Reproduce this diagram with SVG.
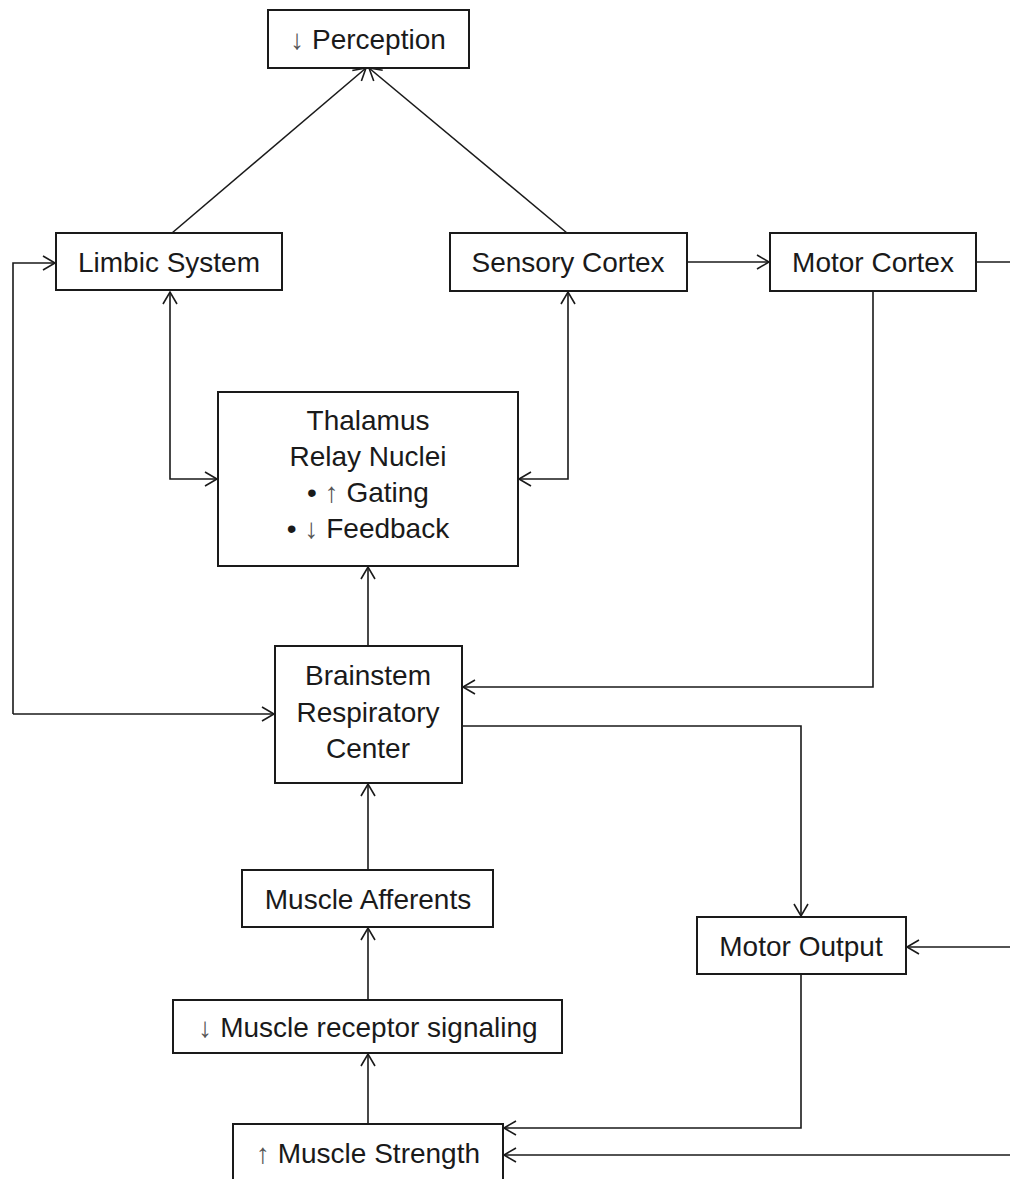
<svg xmlns="http://www.w3.org/2000/svg" width="1010" height="1179" viewBox="0 0 1010 1179">
  <style>
    .box { fill: #ffffff; stroke: #1a1a1a; stroke-width: 2; }
    .lbl { font-family: "Liberation Sans", Arial, sans-serif; font-size: 28px; fill: #1a1a1a; text-anchor: middle; }
    .sym { fill: #555555; }
    .wire { fill: none; stroke: #1a1a1a; stroke-width: 1.6; }
  </style>
  <defs>
    <marker id="arrow" viewBox="0 0 16 16" refX="14" refY="8" markerWidth="16" markerHeight="16" markerUnits="userSpaceOnUse" orient="auto-start-reverse">
      <path d="M2,1 L14,8 L2,15" fill="none" stroke="#1a1a1a" stroke-width="1.6"/>
    </marker>
  </defs>
  <rect width="1010" height="1179" fill="#ffffff"/>

  <!-- connectors -->
  <g id="connectors">
    <path class="wire" d="M172,233 L366,68" marker-end="url(#arrow)"/>
    <path class="wire" d="M567,233 L369,68" marker-end="url(#arrow)"/>
    <path class="wire" d="M687,262 L769,262" marker-end="url(#arrow)"/>
    <path class="wire" d="M976,262 L1010,262"/>
    <path class="wire" d="M13,714 L13,263 L55,263" marker-end="url(#arrow)"/>
    <path class="wire" d="M13,714 L274,714" marker-end="url(#arrow)"/>
    <path class="wire" d="M217,479 L170,479 L170,292" marker-start="url(#arrow)" marker-end="url(#arrow)"/>
    <path class="wire" d="M519,479 L568,479 L568,292" marker-start="url(#arrow)" marker-end="url(#arrow)"/>
    <path class="wire" d="M873,291 L873,687 L463,687" marker-end="url(#arrow)"/>
    <path class="wire" d="M368,646 L368,567" marker-end="url(#arrow)"/>
    <path class="wire" d="M462,726 L801,726 L801,916" marker-end="url(#arrow)"/>
    <path class="wire" d="M1010,947 L907,947" marker-end="url(#arrow)"/>
    <path class="wire" d="M368,870 L368,784" marker-end="url(#arrow)"/>
    <path class="wire" d="M368,1000 L368,928" marker-end="url(#arrow)"/>
    <path class="wire" d="M368,1124 L368,1054" marker-end="url(#arrow)"/>
    <path class="wire" d="M801,974 L801,1128 L504,1128" marker-end="url(#arrow)"/>
    <path class="wire" d="M1010,1155 L504,1155" marker-end="url(#arrow)"/>
  </g>

  <!-- nodes -->
  <g id="perception">
    <rect class="box" x="268" y="10" width="201" height="58"/>
    <text class="lbl" x="368" y="49"><tspan class="sym">↓</tspan> Perception</text>
  </g>
  <g id="limbic-system">
    <rect class="box" x="56" y="233" width="226" height="57"/>
    <text class="lbl" x="169" y="272">Limbic System</text>
  </g>
  <g id="sensory-cortex">
    <rect class="box" x="450" y="233" width="237" height="58"/>
    <text class="lbl" x="568" y="272">Sensory Cortex</text>
  </g>
  <g id="motor-cortex">
    <rect class="box" x="770" y="233" width="206" height="58"/>
    <text class="lbl" x="873" y="272">Motor Cortex</text>
  </g>
  <g id="thalamus">
    <rect class="box" x="218" y="392" width="300" height="174"/>
    <text class="lbl" x="368" y="430">Thalamus</text>
    <text class="lbl" x="368" y="466">Relay Nuclei</text>
    <text class="lbl" x="368" y="502">• <tspan class="sym">↑</tspan> Gating</text>
    <text class="lbl" x="368" y="538">• <tspan class="sym">↓</tspan> Feedback</text>
  </g>
  <g id="brainstem">
    <rect class="box" x="275" y="646" width="187" height="137"/>
    <text class="lbl" x="368" y="685">Brainstem</text>
    <text class="lbl" x="368" y="722">Respiratory</text>
    <text class="lbl" x="368" y="758">Center</text>
  </g>
  <g id="muscle-afferents">
    <rect class="box" x="242" y="870" width="251" height="57"/>
    <text class="lbl" x="368" y="909">Muscle Afferents</text>
  </g>
  <g id="motor-output">
    <rect class="box" x="697" y="917" width="209" height="57"/>
    <text class="lbl" x="801" y="956">Motor Output</text>
  </g>
  <g id="muscle-receptor">
    <rect class="box" x="173" y="1000" width="389" height="53"/>
    <text class="lbl" x="368" y="1037"><tspan class="sym">↓</tspan> Muscle receptor signaling</text>
  </g>
  <g id="muscle-strength">
    <rect class="box" x="233" y="1124" width="270" height="80"/>
    <text class="lbl" x="368" y="1163"><tspan class="sym">↑</tspan> Muscle Strength</text>
  </g>
</svg>
